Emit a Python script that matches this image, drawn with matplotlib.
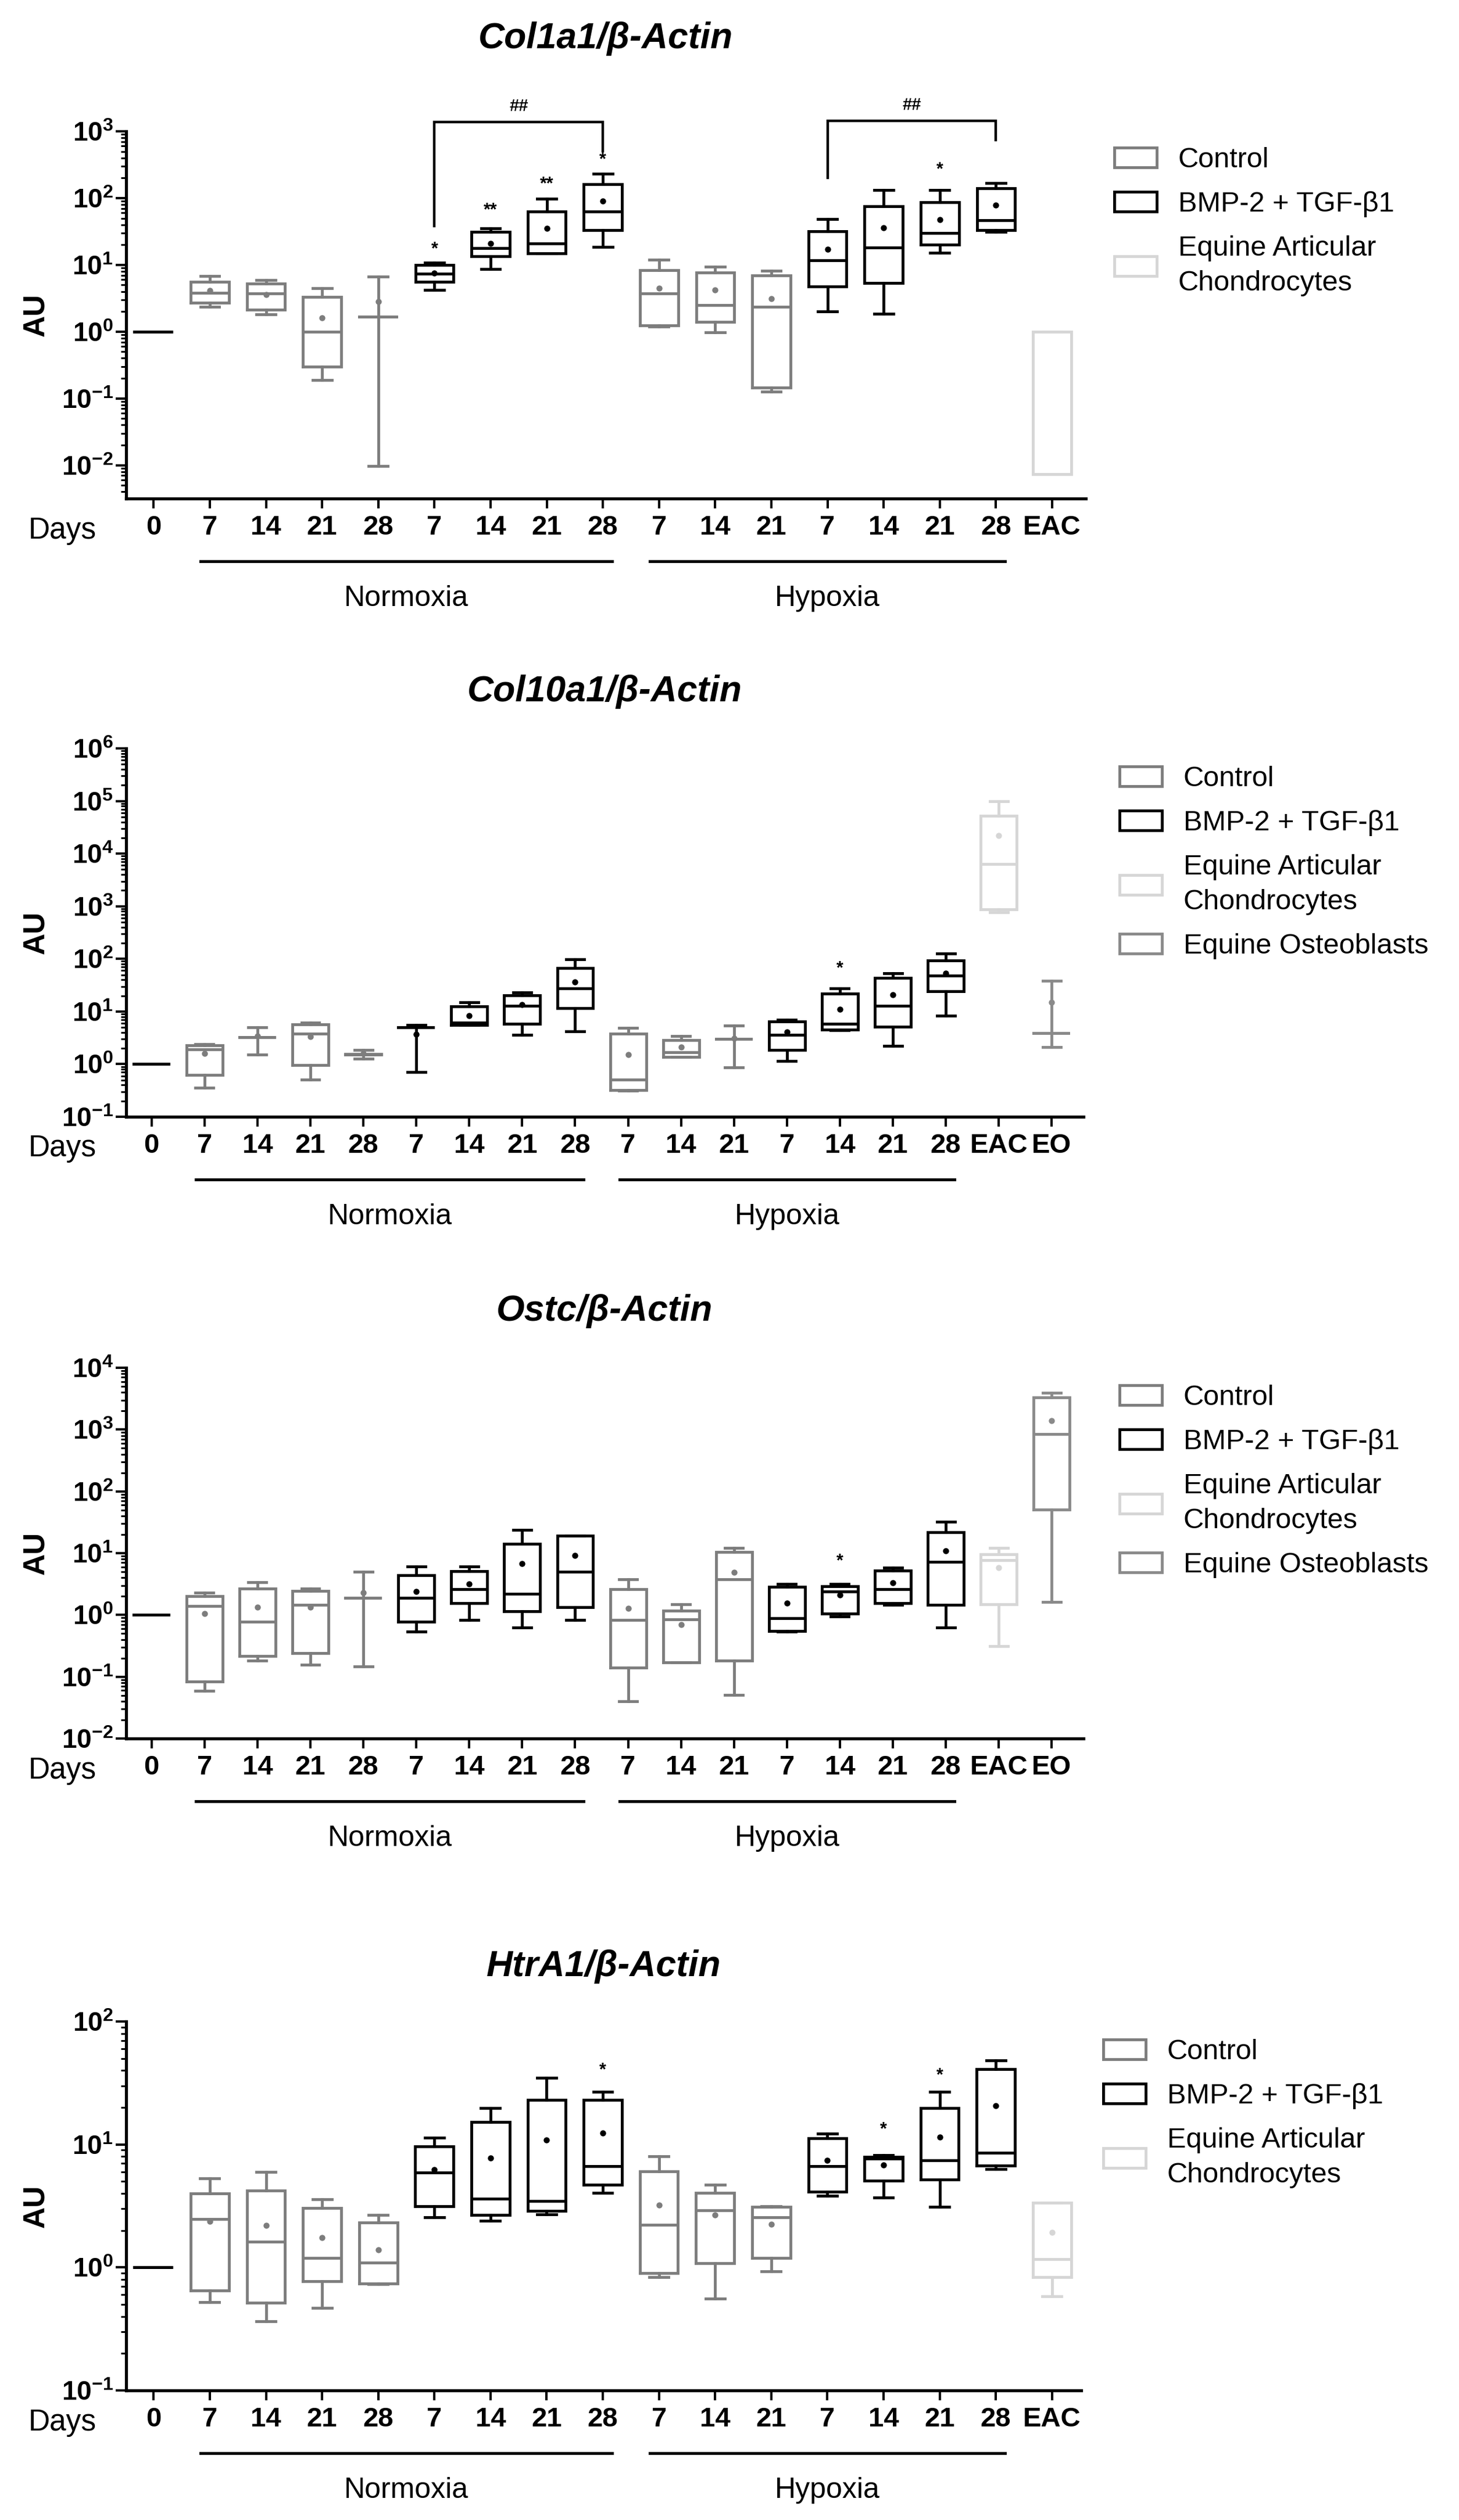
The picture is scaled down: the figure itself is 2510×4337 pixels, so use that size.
import math
import matplotlib
matplotlib.use("Agg")
import matplotlib.pyplot as plt
from matplotlib.patches import Patch
from matplotlib.ticker import LogLocator, FuncFormatter, NullFormatter
from matplotlib.transforms import blended_transform_factory

plt.rcParams['font.family'] = ['Liberation Sans', 'DejaVu Sans']
plt.rcParams['mathtext.fontset'] = 'custom'
plt.rcParams['mathtext.rm'] = 'Liberation Sans'
plt.rcParams['mathtext.bf'] = 'Liberation Sans:bold'
plt.rcParams['mathtext.it'] = 'Liberation Sans:italic'

# ---------------- data ----------------
# Panel 1: Col1a1
P1_TITLE = "Col1a1/β-Actin"
P1_LABELS = ['0', '7', '14', '21', '28', '7', '14', '21', '28', '7', '14', '21', '7', '14', '21', '28', 'EAC']
P1_GROUPS = ['D', 'C', 'C', 'C', 'C', 'B', 'B', 'B', 'B', 'C', 'C', 'C', 'B', 'B', 'B', 'B', 'E']
P1_MIN = [1, 2.35, 1.82, 0.19, 0.0098, 4.2, 8.6, 15, 18.6, 1.2, 0.98, 0.126, 2.0, 1.84, 15.2, 31, 0.0074]
P1_Q1 = [1, 2.7, 2.15, 0.30, 1.67, 5.6, 13.4, 15, 33, 1.24, 1.39, 0.146, 4.7, 5.4, 20, 33, 0.0074]
P1_MED = [1, 3.8, 3.7, 1.0, 1.67, 7.4, 17.8, 20.8, 63, 3.7, 2.5, 2.37, 11.8, 18, 30, 47, 0.0074]
P1_Q3 = [1, 5.6, 5.3, 3.3, 1.67, 9.9, 31, 63, 160, 8.3, 7.7, 7.0, 32, 75, 86, 139, 1.0]
P1_MAX = [1, 6.8, 5.9, 4.5, 6.7, 10.9, 35, 98, 231, 12, 9.3, 8.1, 49, 131, 131, 167, 1.0]
P1_MEAN = [None, 4.1, 3.6, 1.6, 2.8, 7.6, 21, 35, 90, 4.5, 4.2, 3.1, 17, 36, 48, 79, None]
P1_STAR_POS = [5, 6, 7, 8, 14]
P1_STAR_TXT = ['*', '**', '**', '*', '*']
P1_STAR_LOG = [1.23, 1.81, 2.21, 2.57, 2.42]
P1_BRACKET_POS = [(5, 8), (12, 15)]
P1_BRACKET_LOG = [(1.58, 3.14, 2.70), (2.30, 3.16, 2.87)]
P1_BRACKET_TXT = ['##', '##']

# Panel 2: Col10a1
P2_TITLE = "Col10a1/β-Actin"
P2_LABELS = ['0', '7', '14', '21', '28', '7', '14', '21', '28', '7', '14', '21', '7', '14', '21', '28', 'EAC', 'EO']
P2_GROUPS = ['D', 'C', 'C', 'C', 'C', 'B', 'B', 'B', 'B', 'C', 'C', 'C', 'B', 'B', 'B', 'B', 'E', 'O']
P2_MIN = [1, 0.355, 1.53, 0.51, 1.28, 0.71, 5.5, 3.6, 4.2, 0.31, 1.36, 0.87, 1.15, 4.4, 2.2, 8.4, 766, 2.1]
P2_Q1 = [1, 0.63, 3.25, 0.96, 1.5, 5.0, 5.5, 5.85, 11.5, 0.325, 1.38, 3.0, 1.84, 4.5, 5.2, 24.4, 867, 3.9]
P2_MED = [1, 1.9, 3.25, 3.75, 1.53, 5.0, 6.2, 13, 27.7, 0.51, 1.68, 3.0, 3.6, 5.85, 13, 48, 6400, 3.9]
P2_Q3 = [1, 2.3, 3.25, 5.75, 1.56, 5.0, 12.6, 20.4, 67, 3.75, 2.87, 3.0, 6.4, 22, 43, 93, 52600, 3.9]
P2_MAX = [1, 2.4, 5.0, 6.2, 1.84, 5.6, 15, 23, 98, 4.9, 3.4, 5.36, 7.0, 27.7, 54, 128, 98000, 38]
P2_MEAN = [None, 1.6, 3.4, 3.3, 1.6, 3.7, 8.4, 13.5, 36.8, 1.53, 2.1, 3.1, 4.1, 10.9, 21, 54, 22300, 15]
P2_STAR_POS = [13]
P2_STAR_TXT = ['*']
P2_STAR_LOG = [1.81]

# Panel 3: Ostc
P3_TITLE = "Ostc/β-Actin"
P3_LABELS = P2_LABELS
P3_GROUPS = P2_GROUPS
P3_MIN = [1, 0.059, 0.182, 0.157, 0.147, 0.54, 0.83, 0.63, 0.83, 0.04, 0.17, 0.051, 0.54, 0.94, 1.44, 0.62, 0.315, 1.63]
P3_Q1 = [1, 0.083, 0.215, 0.24, 1.87, 0.78, 1.55, 1.15, 1.33, 0.141, 0.171, 0.182, 0.55, 1.06, 1.55, 1.44, 1.49, 51]
P3_MED = [1, 1.38, 0.78, 1.44, 1.87, 1.89, 2.64, 2.2, 5.0, 0.83, 0.85, 3.75, 0.89, 2.38, 2.64, 7.3, 7.7, 853]
P3_Q3 = [1, 2.0, 2.65, 2.45, 1.87, 4.36, 5.08, 14.1, 19, 2.64, 1.18, 10.4, 2.85, 2.94, 5.25, 22, 9.6, 3350]
P3_MAX = [1, 2.27, 3.4, 2.65, 5.0, 6.1, 6.1, 24, 19, 3.75, 1.49, 12.1, 3.2, 3.2, 5.8, 32.5, 12.1, 3900]
P3_MEAN = [None, 1.06, 1.33, 1.33, 2.27, 2.38, 3.2, 6.8, 9.2, 1.28, 0.69, 4.85, 1.55, 2.1, 3.3, 10.9, 5.8, 1390]
P3_STAR_POS = [13]
P3_STAR_TXT = ['*']
P3_STAR_LOG = [0.87]

# Panel 4: HtrA1
P4_TITLE = "HtrA1/β-Actin"
P4_LABELS = P1_LABELS
P4_GROUPS = P1_GROUPS
P4_MIN = [1, 0.52, 0.366, 0.467, 0.73, 2.56, 2.4, 2.7, 4.06, 0.83, 0.557, 0.93, 3.84, 3.72, 3.1, 6.3, 0.58]
P4_Q1 = [1, 0.65, 0.516, 0.77, 0.74, 3.16, 2.66, 2.87, 4.72, 0.9, 1.08, 1.19, 4.11, 5.1, 5.2, 6.76, 0.83]
P4_MED = [1, 2.47, 1.62, 1.19, 1.1, 5.93, 3.61, 3.47, 6.65, 2.23, 2.92, 2.56, 6.65, 7.7, 7.4, 8.55, 1.17]
P4_Q3 = [1, 4.0, 4.2, 3.05, 2.32, 9.6, 15.2, 23, 23, 6.07, 4.05, 3.1, 11.2, 7.94, 19.7, 41, 3.35]
P4_MAX = [1, 5.3, 6.0, 3.6, 2.66, 11.4, 19.8, 35, 26.7, 8.0, 4.72, 3.15, 12.2, 8.2, 26.7, 48, 3.35]
P4_MEAN = [None, 2.38, 2.2, 1.75, 1.39, 6.26, 7.74, 10.9, 12.4, 3.22, 2.66, 2.25, 7.46, 6.8, 11.5, 20.6, 1.93]
P4_STAR_POS = [8, 13, 14]
P4_STAR_TXT = ['*', '*', '*']
P4_STAR_LOG = [1.60, 1.12, 1.56]

LEGEND_3 = ['Control', 'BMP-2 + TGF-β1', 'Equine Articular\nChondrocytes']
LEGEND_3_GROUPS = ['C', 'B', 'E']
LEGEND_4 = LEGEND_3 + ['Equine Osteoblasts']
LEGEND_4_GROUPS = LEGEND_3_GROUPS + ['O']
GROUP_NAMES = ['Normoxia', 'Hypoxia']
GROUP_SPANS = [(1, 8), (9, 15)]

# ---------------- style ----------------
COLORS = {'D': '#000000', 'C': '#7d7d7d', 'B': '#000000', 'E': '#d6d6d6', 'O': '#8a8a8a'}
W, H, DPI = 2510, 4337, 100
BOX_W = 0.68
LW = 3.5
AX_LW = 3.8
LEG_FS = 35

fig = plt.figure(figsize=(W / DPI, H / DPI), dpi=DPI)


def fmt(v, pos):
    e = int(round(math.log10(v)))
    return r'$\mathbf{10^{%d}}$' % e


def draw_panel(rect, xlim, ylim, title, title_y, labels, groups, mins, q1s, meds, q3s, maxs, means,
               star_pos, star_txt, star_log, leg_labels, leg_groups, leg_left, leg_top,
               brackets=None):
    l, t, r, b = rect
    ax = fig.add_axes([l / W, 1 - b / H, (r - l) / W, (b - t) / H])
    ax.set_yscale('log')
    for i in range(len(labels)):
        c = COLORS[groups[i]]
        st = [dict(med=meds[i], q1=q1s[i], q3=q3s[i], whislo=mins[i], whishi=maxs[i], fliers=[])]
        lp = dict(color=c, linewidth=LW, solid_joinstyle='miter')
        ax.bxp(st, positions=[i], widths=BOX_W, showfliers=False, manage_ticks=False,
               boxprops=lp, whiskerprops=lp, capprops=lp, medianprops=lp, capwidths=BOX_W * 0.5)
        if means[i] is not None:
            ax.plot([i], [means[i]], 'o', color=c, ms=7.5, mec='none')
    ax.set_xlim(*xlim)
    ax.set_ylim(*ylim)
    ax.set_xticks(range(len(labels)))
    ax.set_xticklabels(labels, fontweight='bold', fontsize=34)
    ax.tick_params(axis='x', length=12, width=2.9, pad=8)
    ax.yaxis.set_major_locator(LogLocator(base=10, numticks=30))
    ax.yaxis.set_minor_locator(LogLocator(base=10, subs=range(2, 10), numticks=30))
    ax.yaxis.set_major_formatter(FuncFormatter(fmt))
    ax.yaxis.set_minor_formatter(NullFormatter())
    ax.tick_params(axis='y', which='major', length=13, width=2.9, labelsize=33, pad=3)
    ax.tick_params(axis='y', which='minor', length=6.5, width=2.2)
    for s in ['top', 'right']:
        ax.spines[s].set_visible(False)
    for s in ['left', 'bottom']:
        ax.spines[s].set_linewidth(AX_LW)

    # stars
    for p, tx, lg in zip(star_pos, star_txt, star_log):
        ax.text(p, 10 ** lg, tx, ha='center', va='center', fontsize=22, fontweight='bold')
    # brackets
    if brackets:
        for (x0, x1), (yl, yt, yr), tx in brackets:
            ax.plot([x0, x0, x1, x1], [10 ** yl, 10 ** yt, 10 ** yt, 10 ** yr], color='black',
                    lw=3.2, clip_on=False, solid_joinstyle='miter')
            ax.text((x0 + x1) / 2, 10 ** (yt + 0.23), tx, ha='center', va='center', fontsize=21,
                    fontweight='bold', clip_on=False)

    # group lines and labels
    trans = blended_transform_factory(ax.transData, fig.transFigure)
    for name, (a, z) in zip(GROUP_NAMES, GROUP_SPANS):
        ax.plot([a - 0.16, z + 0.16], [1 - (b + 108) / H] * 2, color='black', lw=3.6,
                transform=trans, clip_on=False)
        ax.text((a + z) / 2, 1 - (b + 172) / H, name, transform=trans, ha='center', va='center',
                fontsize=36)

    fig.text(107 / W, 1 - (b + 55) / H, 'Days', ha='center', va='center', fontsize=37)
    fig.text(62 / W, 1 - (t + b) / 2 / H, 'AU', ha='center', va='center', rotation=90,
             fontsize=37, fontweight='bold')
    fig.text((l + r) / 2 / W, 1 - title_y / H, title, ha='center', va='center', fontsize=45,
             fontweight='bold', fontstyle='italic')

    handles = [Patch(facecolor='white', edgecolor=COLORS[g], linewidth=LW) for g in leg_groups]
    leg = ax.legend(handles, leg_labels, loc='upper left',
                    bbox_to_anchor=(leg_left / W, 1 - leg_top / H),
                    bbox_transform=fig.transFigure, frameon=False, fontsize=LEG_FS,
                    handlelength=1.5, handleheight=0.72, handletextpad=0.76, labelspacing=0.64,
                    borderpad=0, borderaxespad=0)
    for tx in leg.get_texts():
        tx.set_linespacing(1.42)
    return ax


P1_BRACKETS = list(zip(P1_BRACKET_POS, P1_BRACKET_LOG, P1_BRACKET_TXT))

draw_panel((217, 226, 1868, 858), (-0.49, 16.6), (10 ** -2.5, 1e3), P1_TITLE, 67, P1_LABELS, P1_GROUPS,
           P1_MIN, P1_Q1, P1_MED, P1_Q3, P1_MAX, P1_MEAN, P1_STAR_POS, P1_STAR_TXT, P1_STAR_LOG,
           LEGEND_3, LEGEND_3_GROUPS, 1917, 253, brackets=P1_BRACKETS)
draw_panel((217, 1288, 1864, 1922), (-0.48, 17.6), (0.1, 1e6), P2_TITLE, 1190, P2_LABELS, P2_GROUPS,
           P2_MIN, P2_Q1, P2_MED, P2_Q3, P2_MAX, P2_MEAN, P2_STAR_POS, P2_STAR_TXT, P2_STAR_LOG,
           LEGEND_4, LEGEND_4_GROUPS, 1926, 1318)
draw_panel((217, 2354, 1864, 2992), (-0.48, 17.6), (0.01, 1e4), P3_TITLE, 2257, P3_LABELS, P3_GROUPS,
           P3_MIN, P3_Q1, P3_MED, P3_Q3, P3_MAX, P3_MEAN, P3_STAR_POS, P3_STAR_TXT, P3_STAR_LOG,
           LEGEND_4, LEGEND_4_GROUPS, 1926, 2383)
draw_panel((217, 3479, 1860, 4114), (-0.49, 16.52), (0.1, 100), P4_TITLE, 3384, P4_LABELS, P4_GROUPS,
           P4_MIN, P4_Q1, P4_MED, P4_Q3, P4_MAX, P4_MEAN, P4_STAR_POS, P4_STAR_TXT, P4_STAR_LOG,
           LEGEND_3, LEGEND_3_GROUPS, 1898, 3509)

fig.savefig('out.png', dpi=DPI)
